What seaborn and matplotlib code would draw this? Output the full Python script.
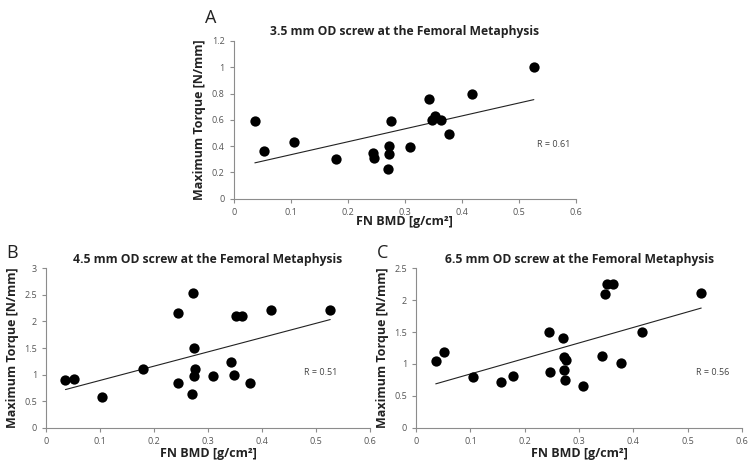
import numpy as np
import pandas as pd
import matplotlib.pyplot as plt
import seaborn as sns

sns.set_style("white")
plt.rcParams['font.family'] = ['Open Sans', 'DejaVu Sans']

# Panel A: 3.5 mm screw
bmd_a = [0.037, 0.053, 0.106, 0.180, 0.244, 0.246, 0.270, 0.273, 0.273, 0.275,
         0.309, 0.343, 0.348, 0.353, 0.363, 0.378, 0.417, 0.526]
torque_a = [0.59, 0.36, 0.43, 0.30, 0.35, 0.31, 0.23, 0.40, 0.34, 0.59,
            0.39, 0.76, 0.60, 0.63, 0.60, 0.49, 0.80, 1.00]

# Panel B: 4.5 mm screw
bmd_b = [0.036, 0.051, 0.104, 0.180, 0.244, 0.245, 0.272, 0.270, 0.273, 0.275,
         0.273, 0.309, 0.343, 0.348, 0.352, 0.363, 0.378, 0.417, 0.526]
torque_b = [0.89, 0.92, 0.58, 1.11, 2.16, 0.84, 2.54, 0.63, 0.98, 1.10,
            1.51, 0.98, 1.24, 1.00, 2.10, 2.10, 0.85, 2.21, 2.21]

# Panel C: 6.5 mm screw
bmd_c = [0.036, 0.052, 0.104, 0.157, 0.179, 0.244, 0.246, 0.270, 0.272, 0.275,
         0.273, 0.274, 0.308, 0.343, 0.347, 0.351, 0.362, 0.378, 0.416, 0.525]
torque_c = [1.05, 1.18, 0.79, 0.71, 0.81, 1.50, 0.87, 1.41, 1.11, 1.07,
            0.90, 0.75, 0.66, 1.12, 2.10, 2.26, 2.26, 1.01, 1.50, 2.11]

titles = ['3.5 mm OD screw at the Femoral Metaphysis',
          '4.5 mm OD screw at the Femoral Metaphysis',
          '6.5 mm OD screw at the Femoral Metaphysis']
r_labels = ['R = 0.61', 'R = 0.51', 'R = 0.56']
letters = ['A', 'B', 'C']
x_ticks = [0, 0.1, 0.2, 0.3, 0.4, 0.5, 0.6]
x_ticklabels = ['0', '0.1', '0.2', '0.3', '0.4', '0.5', '0.6']
y_ticks_a = [0, 0.2, 0.4, 0.6, 0.8, 1.0, 1.2]
y_ticklabels_a = ['0', '0.2', '0.4', '0.6', '0.8', '1', '1.2']
y_ticks_b = [0, 0.5, 1, 1.5, 2, 2.5, 3]
y_ticklabels_b = ['0', '0.5', '1', '1.5', '2', '2.5', '3']
y_ticks_c = [0, 0.5, 1, 1.5, 2, 2.5]
y_ticklabels_c = ['0', '0.5', '1', '1.5', '2', '2.5']

fig = plt.figure(figsize=(7.54, 4.70), dpi=100)
ax_a = fig.add_axes([0.310, 0.577, 0.454, 0.336])
ax_b = fig.add_axes([0.061, 0.090, 0.430, 0.339])
ax_c = fig.add_axes([0.552, 0.090, 0.432, 0.339])

panels = [
    (ax_a, bmd_a, torque_a, y_ticks_a, y_ticklabels_a, (0.531, 0.41), -1),
    (ax_b, bmd_b, torque_b, y_ticks_b, y_ticklabels_b, (0.478, 1.03), 1),
    (ax_c, bmd_c, torque_c, y_ticks_c, y_ticklabels_c, (0.515, 0.86), 1),
]

gray = '#8c8c8c'
for i, (ax, xs, ys, yt, ytl, rpos, xpad) in enumerate(panels):
    df = pd.DataFrame({'bmd': xs, 'torque': ys})
    # linear trend line over the data range
    sns.regplot(data=df, x='bmd', y='torque', ax=ax, scatter=False, ci=None,
                truncate=True, color='#222222', line_kws={'linewidth': 0.8})
    sns.scatterplot(data=df, x='bmd', y='torque', ax=ax, color='black',
                    s=55, edgecolor='black', linewidth=0, zorder=3)
    ax.set_xlim(0, 0.6)
    ax.set_ylim(yt[0], yt[-1])
    ax.set_xticks(x_ticks)
    ax.set_xticklabels(x_ticklabels)
    ax.set_yticks(yt)
    ax.set_yticklabels(ytl)
    ax.tick_params(axis='both', labelsize=6.5, labelcolor='#555555', color=gray,
                   direction='out', length=3, width=0.8, bottom=True, left=True)
    for side in ['top', 'right']:
        ax.spines[side].set_visible(False)
    for side in ['left', 'bottom']:
        ax.spines[side].set_color(gray)
        ax.spines[side].set_linewidth(0.8)
    ax.set_xlabel('FN BMD [g/cm²]', fontsize=9, fontweight='bold', color='#222222', labelpad=xpad)
    ax.set_ylabel('Maximum Torque [N/mm]', fontsize=9, fontweight='bold', color='#222222', labelpad=4)
    ax.set_title(titles[i], fontsize=8.7, fontweight='bold', color='#222222', pad=4)
    ax.text(rpos[0], rpos[1], r_labels[i], fontsize=6.5, color='#444444',
            ha='left', va='center')

fig.text(0.272, 0.962, letters[0], fontsize=13, color='#222222', ha='left', va='center')
fig.text(0.008, 0.462, letters[1], fontsize=13, color='#222222', ha='left', va='center')
fig.text(0.500, 0.462, letters[2], fontsize=13, color='#222222', ha='left', va='center')

fig.savefig('out.png', dpi=100)
